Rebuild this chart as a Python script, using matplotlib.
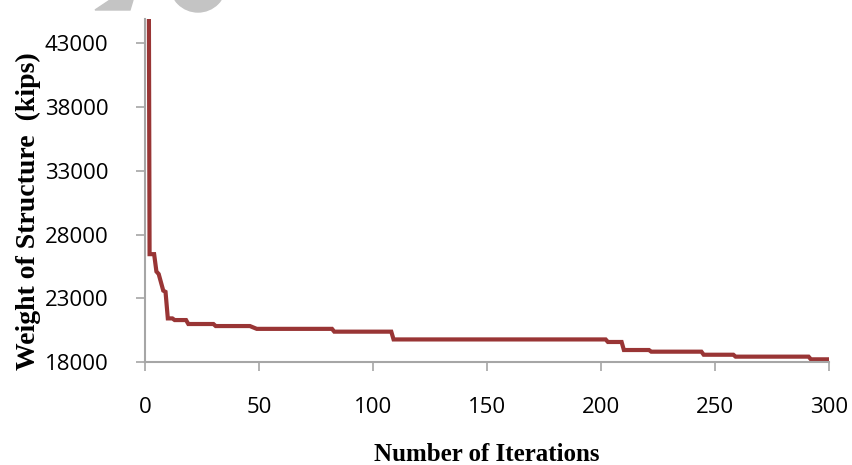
import matplotlib
matplotlib.use("Agg")
import matplotlib.pyplot as plt
from matplotlib.patches import Ellipse, Polygon

# best weight found so far at each iteration where it changes (kips)
iterations = [1, 2, 4, 5, 6, 8, 9, 10, 12, 13, 18, 19, 30, 31, 46, 49, 82, 83,
              108, 109, 202, 203, 209, 210, 221, 222, 244, 245, 258, 259, 291, 292, 300]
weights = [90000, 26460, 26460, 25100, 24900, 23600, 23500, 21420, 21420, 21290,
           21290, 20980, 20980, 20820, 20820, 20600, 20600, 20380,
           20380, 19770, 19770, 19570, 19570, 18940, 18940, 18810, 18810, 18570,
           18570, 18420, 18420, 18210, 18210]

x_ticks = [0, 50, 100, 150, 200, 250, 300]
y_ticks = [18000, 23000, 28000, 33000, 38000, 43000]

fig = plt.figure(figsize=(8.53, 4.65), dpi=100)
ax = fig.add_axes([0.170, 0.2215, 0.802, 0.7375])

ax.plot(iterations, weights, color="#993535", linewidth=3.0, solid_joinstyle="miter")

ax.set_xlim(0, 300)
ax.set_ylim(18000, 44900)
ax.set_xticks(x_ticks)
ax.set_yticks(y_ticks)

grey = "#a6a6a6"
for side in ["top", "right"]:
    ax.spines[side].set_visible(False)
for side in ["left", "bottom"]:
    ax.spines[side].set_color(grey)
    ax.spines[side].set_linewidth(1.5)

ax.tick_params(axis="y", direction="out", length=6.5, width=1.2, color=grey,
               pad=20, labelsize=16)
ax.tick_params(axis="x", direction="out", length=6.5, width=1.2, color=grey,
               pad=19, labelsize=16)
for lab in ax.get_xticklabels() + ax.get_yticklabels():
    lab.set_family(["Open Sans", "DejaVu Sans"])

ax.set_xlabel("Number of Iterations", family="Liberation Serif", fontweight="bold",
              fontsize=18, labelpad=18)
ax.set_ylabel("Weight of Structure  (kips)", family="Liberation Serif", fontweight="bold",
              fontsize=20, labelpad=14)
ax.yaxis.set_label_coords(-0.152, 0.44)

# faint grey watermark shapes cut off at the top edge
fig.patches.append(Ellipse((198 / 853, 1 + 16 / 465), 56 / 853, 56 / 465,
                           color="#c4c4c4", transform=fig.transFigure, figure=fig))
fig.patches.append(Polygon([(95 / 853, 1 - 10 / 465), (110 / 853, 1.0), (133 / 853, 1.0),
                            (130 / 853, 1 - 10 / 465)], color="#c4c4c4",
                           transform=fig.transFigure, figure=fig))

fig.savefig("out.png", dpi=100)
